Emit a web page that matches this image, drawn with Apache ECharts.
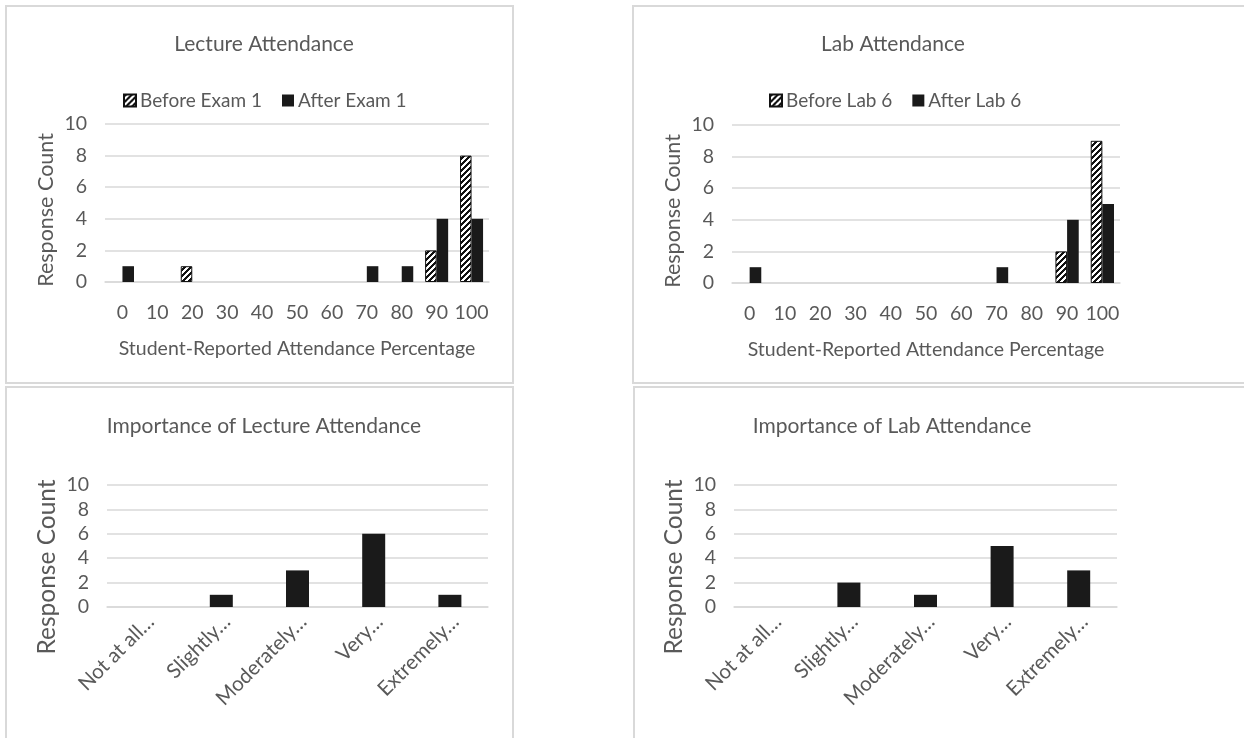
<!DOCTYPE html>
<html>
<head>
<meta charset="utf-8">
<script src="https://cdn.jsdelivr.net/npm/echarts@6/dist/echarts.min.js"></script>
<style>
html,body{margin:0;padding:0;background:#fff;}
#chart{width:1244px;height:738px;}
</style>
</head>
<body>
<div id="chart"></div>
<script>
// ---- Data ----
const pctCategories = ['0','10','20','30','40','50','60','70','80','90','100'];
const lectureBefore = [0,0,1,0,0,0,0,0,0,2,8];
const lectureAfter  = [1,0,0,0,0,0,0,1,1,4,4];
const labBefore     = [0,0,0,0,0,0,0,0,0,2,9];
const labAfter      = [1,0,0,0,0,0,0,1,0,4,5];
const importanceCategories = ['Not at all…','Slightly…','Moderately…','Very…','Extremely…'];
const lectureImportance = [0,1,3,6,1];
const labImportance     = [0,2,1,5,3];
const titles = ['Lecture Attendance','Lab Attendance','Importance of Lecture Attendance','Importance of Lab Attendance'];
const seriesNames = ['Before Exam 1','After Exam 1','Before Lab 6','After Lab 6'];
const xAxisName = 'Student-Reported Attendance Percentage';
const yAxisName = 'Response Count';

// ---- Styles ----
const FONT = 'Lato';
const TXT = '#595959';
const GRID = '#d9d9d9';
const BAR = '#1a1a1a';

function hatch() {
  const c = document.createElement('canvas');
  c.width = 6; c.height = 6;
  const ctx = c.getContext('2d');
  ctx.fillStyle = '#ffffff';
  ctx.fillRect(0,0,6,6);
  ctx.fillStyle = '#111111';
  for (let x = 0; x < 6; x++) for (let y = 0; y < 6; y++) {
    if ((x + y) % 6 < 3) ctx.fillRect(x, y, 1, 1);
  }
  return {image: c, repeat: 'repeat'};
}
const hatchFill = hatch();
const nz = arr => arr.map(v => v === 0 ? '-' : v);

const grids = [
  {left:105, top:124, width:384, height:158},
  {left:732, top:125, width:388, height:158},
  {left:107, top:485, width:381, height:122},
  {left:734, top:485, width:383, height:122}
];

function yAxis(i, big) {
  return {
    gridIndex:i, type:'value', min:0, max:10, interval:2,
    axisLine:{show:false}, axisTick:{show:false},
    splitLine:{lineStyle:{color:GRID, width:1.5}},
    axisLabel:{margin:18, fontSize:19.5, color:TXT, fontFamily:FONT},
    name:yAxisName, nameLocation:'middle', nameGap: big ? 47 : 48,
    nameTextStyle:{fontSize: big ? 24.5 : 21.5, color:TXT, fontFamily:FONT,
      padding: big ? [0,42,0,0] : [0,14,0,0]}
  };
}
function xPct(i) {
  return {
    gridIndex:i, type:'category', data:pctCategories,
    axisTick:{show:false}, axisLine:{lineStyle:{color:GRID, width:1.5}},
    axisLabel:{interval:0, margin:21, fontSize:19.5, color:TXT, fontFamily:FONT},
    name:xAxisName, nameLocation:'middle', nameGap:57,
    nameTextStyle:{fontSize:19.5, color:TXT, fontFamily:FONT}
  };
}
function xImp(i) {
  return {
    gridIndex:i, type:'category', data:importanceCategories,
    axisTick:{show:false}, axisLine:{lineStyle:{color:GRID, width:1.5}},
    axisLabel:{interval:0, rotate:45, margin:17, fontSize:20.5, color:TXT, fontFamily:FONT,
      padding:[58,-8,0,0]}
  };
}
function hatchSeries(name, data, i) {
  return {type:'bar', name, xAxisIndex:i, yAxisIndex:i, data:nz(data),
    barGap:'0%', barCategoryGap:'34%',
    itemStyle:{color:hatchFill, borderColor:'#111', borderWidth:1}};
}
function solidSeries(name, data, i, extra) {
  return Object.assign({type:'bar', name, xAxisIndex:i, yAxisIndex:i, data:nz(data),
    barGap:'0%', barCategoryGap:'34%',
    itemStyle:{color:BAR}}, extra || {});
}
function panel(x, y, w, h) {
  return {type:'rect', shape:{x, y, width:w, height:h}, silent:true,
    style:{fill:'none', stroke:GRID, lineWidth:2}};
}
const titleStyle = {fontSize:21, fontWeight:'normal', color:TXT, fontFamily:FONT};
const legendText = {fontSize:19, color:TXT, fontFamily:FONT, padding:[0,0,0,-1]};

const option = {
  backgroundColor:'#fff',
  animation:false,
  textStyle:{fontFamily:FONT},
  graphic:[
    panel(6, 6, 507, 377),
    panel(633, 6, 612, 377),
    panel(6, 387, 507, 360),
    panel(634, 387, 611, 360)
  ],
  title:[
    {text:titles[0], left:259, top:29, textAlign:'center', textStyle:titleStyle},
    {text:titles[1], left:888, top:29, textAlign:'center', textStyle:titleStyle},
    {text:titles[2], left:259, top:411, textAlign:'center', textStyle:titleStyle},
    {text:titles[3], left:887, top:411, textAlign:'center', textStyle:titleStyle}
  ],
  legend:[
    {data:[seriesNames[0], seriesNames[1]], left:118, top:86, icon:'rect', itemWidth:12, itemHeight:12, itemGap:20,
      textStyle:legendText},
    {data:[seriesNames[2], seriesNames[3]], left:764, top:86, icon:'rect', itemWidth:12, itemHeight:12, itemGap:20,
      textStyle:legendText}
  ],
  grid:grids,
  xAxis:[xPct(0), xPct(1), xImp(2), xImp(3)],
  yAxis:[yAxis(0,false), yAxis(1,false), yAxis(2,true), yAxis(3,true)],
  series:[
    hatchSeries(seriesNames[0], lectureBefore, 0),
    solidSeries(seriesNames[1], lectureAfter, 0),
    hatchSeries(seriesNames[2], labBefore, 1),
    solidSeries(seriesNames[3], labAfter, 1),
    solidSeries('Importance of Lecture Attendance', lectureImportance, 2, {barWidth:23, barCategoryGap:null, barGap:null}),
    solidSeries('Importance of Lab Attendance', labImportance, 3, {barWidth:23, barCategoryGap:null, barGap:null})
  ]
};
const chart = echarts.init(document.getElementById('chart'), null, {renderer:'canvas'});
chart.setOption(option);
</script>
</body>
</html>
